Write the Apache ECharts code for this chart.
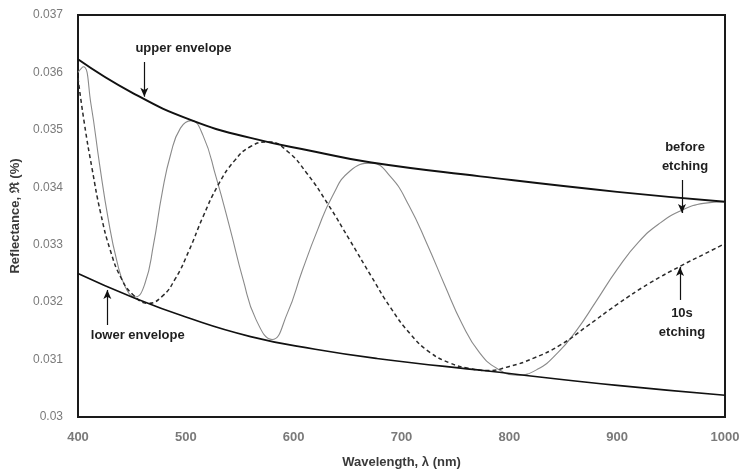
<!DOCTYPE html>
<html>
<head>
<meta charset="utf-8">
<script src="https://cdn.jsdelivr.net/npm/echarts@6/dist/echarts.min.js"></script>
<style>
html,body{margin:0;padding:0;background:#fff;}
#chart{width:741px;height:473px;}
</style>
</head>
<body>
<div id="chart"></div>
<script>
// ---- data (wavelength nm, reflectance) ----
const xTicks = [400, 500, 600, 700, 800, 900, 1000];
const yTicks = [0.030, 0.031, 0.032, 0.033, 0.034, 0.035, 0.036, 0.037];

const upperEnvelope = [
  [400,0.03623],[450,0.03565],[505,0.03517],[560,0.03486],[620,0.03462],[672,0.03443],
  [773,0.03419],[900,0.03392],[1000,0.03375]
];
const lowerEnvelope = [
  [400,0.03250],[450,0.03209],[500,0.03174],[560,0.03140],[620,0.03118],[677,0.03102],
  [780,0.03080],[900,0.03055],[1000,0.03038]
];
const beforeEtching = [
  [400,0.03600],[405,0.03610],[412,0.03545],[420,0.03440],[428,0.03345],[436,0.03272],
  [444,0.03226],[453,0.03209],[462,0.03232],[470,0.03300],[478,0.03390],[486,0.03458],
  [495,0.03503],[505,0.03516],[516,0.03490],[528,0.03418],[541,0.03328],[553,0.03240],
  [565,0.03170],[580,0.03135],[594,0.03180],[608,0.03255],[622,0.03325],[636,0.03385],
  [652,0.03428],[672,0.03442],[690,0.03418],[707,0.03368],[724,0.03300],[740,0.03230],
  [756,0.03163],[772,0.03113],[789,0.03084],[807,0.03073],[826,0.03083],[845,0.03112],
  [862,0.03150],[880,0.03200],[900,0.03257],[920,0.03305],[940,0.03338],[960,0.03360],
  [980,0.03372],[1000,0.03375]
];
const tenSecEtching = [
  [400,0.03590],[406,0.03510],[413,0.03433],[421,0.03355],[430,0.03290],[440,0.03242],
  [451,0.03213],[465,0.03198],[478,0.03210],[490,0.03240],[503,0.03290],[516,0.03349],
  [530,0.03404],[545,0.03446],[560,0.03471],[577,0.03479],[594,0.03463],[612,0.03425],
  [632,0.03370],[652,0.03308],[672,0.03245],[690,0.03190],[708,0.03145],[726,0.03113],
  [745,0.03094],[762,0.03085],[780,0.03081],[800,0.03088],[822,0.03102],[847,0.03125],
  [872,0.03158],[900,0.03196],[930,0.03233],[960,0.03264],[980,0.03283],[1000,0.03302]
];

// ---- annotation anchors (data coordinates) ----
const annotationTexts = [
  { text: 'upper envelope', at: [497.8, 0.036425] },
  { text: 'lower envelope', at: [455.4, 0.031416] },
  { text: 'before\netching', at: [962.9, 0.034536] },
  { text: '10s\netching', at: [960.1, 0.031646] }
];
const annotationArrows = [
  { from: [461.5, 0.036182], to: [461.5, 0.035578] },
  { from: [427.2, 0.031602], to: [427.2, 0.032212] },
  { from: [960.1, 0.034127], to: [960.1, 0.033552] },
  { from: [958.3, 0.032038], to: [958.3, 0.032612] }
];

const chart = echarts.init(document.getElementById('chart'), null, { renderer: 'canvas' });

function lineSeries(name, data, color, width, type, smooth) {
  return {
    name, type: 'line', data, showSymbol: false, symbol: 'none',
    smooth: smooth,
    lineStyle: { color, width, type: type || 'solid' },
    z: 3, silent: true
  };
}

const option = {
  animation: false,
  backgroundColor: '#ffffff',
  grid: {
    left: 78, right: 16, top: 15, bottom: 56,
    outerBoundsMode: 'none', containLabel: false,
    show: true, borderColor: '#1a1a1a', borderWidth: 2, backgroundColor: 'transparent'
  },
  xAxis: {
    type: 'value', min: 400, max: 1000, interval: 100,
    name: 'Wavelength, λ (nm)', nameLocation: 'middle', nameGap: 39,
    nameTextStyle: { fontFamily: 'Liberation Sans', fontWeight: 'bold', fontSize: 13, color: '#3a3a3a' },
    axisLine: { show: false }, axisTick: { show: false }, splitLine: { show: false },
    axisLabel: {
      margin: 14, color: '#7a7a7a', fontFamily: 'Liberation Sans', fontWeight: 'bold', fontSize: 13,
      formatter: v => xTicks.includes(Math.round(v)) ? String(Math.round(v)) : ''
    }
  },
  yAxis: {
    type: 'value', min: 0.030, max: 0.037, interval: 0.001,
    name: 'Reflectance, ℜ (%)', nameLocation: 'middle', nameGap: 50, nameRotate: 90,
    nameTextStyle: { fontFamily: 'Liberation Sans', fontWeight: 'bold', fontSize: 13, color: '#3a3a3a' },
    axisLine: { show: false }, axisTick: { show: false }, splitLine: { show: false },
    axisLabel: {
      margin: 15, color: '#7a7a7a', fontFamily: 'Liberation Sans', fontSize: 12,
      formatter: v => {
        const t = yTicks.find(y => Math.abs(y - v) < 1e-7);
        return t === undefined ? '' : String(Number(t.toFixed(3)));
      }
    }
  },
  series: [
    lineSeries('before etching', beforeEtching, '#8a8a8a', 1.1, 'solid', 0.5),
    lineSeries('10s etching', tenSecEtching, '#2a2a2a', 1.5, [4, 3], 0.5),
    lineSeries('upper envelope', upperEnvelope, '#111111', 2, 'solid', 0.5),
    Object.assign(lineSeries('lower envelope', lowerEnvelope, '#111111', 1.6, 'solid', 0.5), {
      markLine: {
        silent: true, symbol: ['none', 'arrow'], symbolSize: [6, 9],
        lineStyle: { color: '#111', width: 1.2, type: 'solid' },
        label: { show: false },
        data: annotationArrows.map(a => [{ coord: a.from }, { coord: a.to }])
      }
    })
  ]
};
chart.setOption(option);

const graphics = annotationTexts.map(a => {
  const p = chart.convertToPixel({ gridIndex: 0 }, a.at);
  return {
    type: 'text', x: p[0], y: p[1], silent: true, z: 10,
    style: {
      text: a.text, fill: '#1e1e1e', align: 'center', verticalAlign: 'middle',
      font: 'bold 13px "Liberation Sans"', lineHeight: 19
    }
  };
});
chart.setOption({ graphic: graphics });
</script>
</body>
</html>
